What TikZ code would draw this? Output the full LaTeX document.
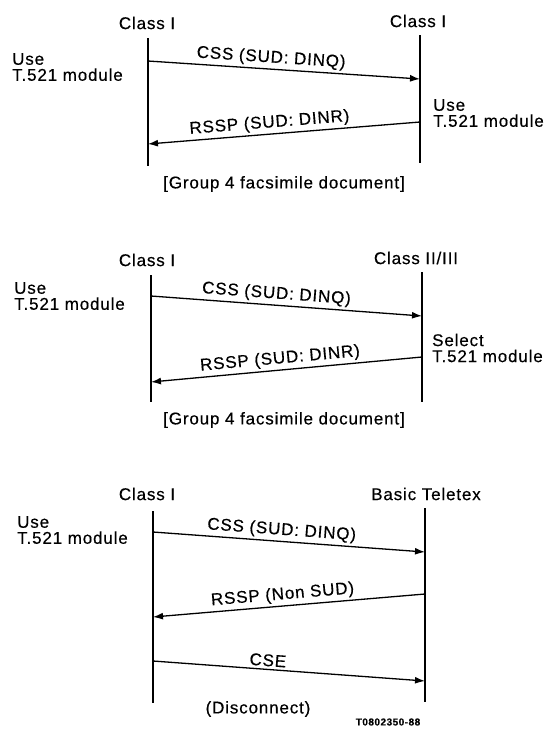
\documentclass[tikz,border=0pt]{standalone}
\usepackage{fontspec}
\setmainfont{Liberation Sans}[LetterSpace=5,FakeBold=0.4]
\usetikzlibrary{arrows.meta}
\begin{document}
\begin{tikzpicture}[x=1pt,y=-1pt,
  txt/.style={font=\fontsize{17}{16}\selectfont, inner sep=0pt},
  head/.style={txt},
  side/.style={txt, align=left, anchor=west},
  lifeline/.style={line width=2.2pt},
  msg/.style={line width=1.3pt, -{Latex[length=10pt,width=7pt]}},
  msglbl/.style={txt, sloped, above, inner sep=2.5pt},
  code/.style={font=\fontsize{10}{10}\selectfont\bfseries, inner sep=0pt}]
\useasboundingbox (0,0) rectangle (556,729);

% ---------- Section 1 ----------
\node[head] (h1l) at (147,23) {Class I};
\node[head] (h1r) at (418,21) {Class I};
\coordinate (L1t) at (148,38);  \coordinate (L1b) at (148,166);
\coordinate (R1t) at (420,35);  \coordinate (R1b) at (420,163);
\draw[lifeline] (L1t) -- (L1b);
\draw[lifeline] (R1t) -- (R1b);
\coordinate (m1a) at (148,61);  \coordinate (m1b) at (420,79);
\coordinate (m1c) at (420,122); \coordinate (m1d) at (148,144);
\draw[msg] (m1a) -- (m1b) node[msglbl,pos=0.45] (c1) {CSS (SUD: DINQ)};
\draw[msg] (m1c) -- (m1d) node[msglbl,pos=0.55] (r1) {RSSP (SUD: DINR)};
\node[txt] (g1) at (284,184) {[Group 4 facsimile document]};
\node[side] (u1l) at (12,67) {Use\\T.521 module};
\node[side] (u1r) at (433,113) {Use\\T.521 module};

% ---------- Section 2 ----------
\node[head] (h2l) at (147,260) {Class I};
\node[head] (h2r) at (416,258) {Class II/III};
\coordinate (L2t) at (151,275); \coordinate (L2b) at (151,402);
\coordinate (R2t) at (422,272); \coordinate (R2b) at (422,402);
\draw[lifeline] (L2t) -- (L2b);
\draw[lifeline] (R2t) -- (R2b);
\coordinate (m2a) at (151,296); \coordinate (m2b) at (422,316);
\coordinate (m2c) at (422,357); \coordinate (m2d) at (151,382);
\draw[msg] (m2a) -- (m2b) node[msglbl,pos=0.46] (c2) {CSS (SUD: DINQ)};
\draw[msg] (m2c) -- (m2d) node[msglbl,pos=0.52] (r2) {RSSP (SUD: DINR)};
\node[txt] (g2) at (284,420) {[Group 4 facsimile document]};
\node[side] (u2l) at (14,296) {Use\\T.521 module};
\node[side] (s2r) at (432,348) {Select\\T.521 module};

% ---------- Section 3 ----------
\node[head] (h3l) at (147,494) {Class I};
\node[head] (h3r) at (426,494) {Basic Teletex};
\coordinate (L3t) at (153,511); \coordinate (L3b) at (153,703);
\coordinate (R3t) at (425,508); \coordinate (R3b) at (425,702);
\draw[lifeline] (L3t) -- (L3b);
\draw[lifeline] (R3t) -- (R3b);
\coordinate (m3a) at (153,532); \coordinate (m3b) at (425,552);
\coordinate (m3c) at (425,594); \coordinate (m3d) at (153,617);
\coordinate (m3e) at (153,661); \coordinate (m3f) at (425,681);
\draw[msg] (m3a) -- (m3b) node[msglbl,pos=0.47] (c3) {CSS (SUD: DINQ)};
\draw[msg] (m3c) -- (m3d) node[msglbl,pos=0.52] (r3) {RSSP (Non SUD)};
\draw[msg] (m3e) -- (m3f) node[msglbl,pos=0.42] (e3) {CSE};
\node[txt] (d3) at (258,709) {(Disconnect)};
\node[side] (u3l) at (17,530) {Use\\T.521 module};
\node[code] (id) at (388,722) {T0802350-88};
\end{tikzpicture}
\end{document}
